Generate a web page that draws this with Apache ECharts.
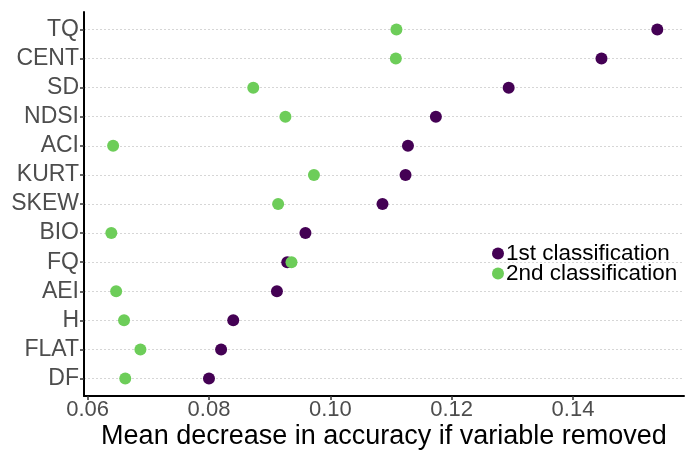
<!DOCTYPE html>
<html>
<head>
<meta charset="utf-8">
<script src="https://cdn.jsdelivr.net/npm/echarts@6/dist/echarts.min.js"></script>
<style>
  html, body { margin: 0; padding: 0; background: #ffffff; }
  #chart { width: 687px; height: 450px; }
</style>
</head>
<body>
<div id="chart"></div>
<script>
// Variables, listed bottom to top
const variables = ['DF', 'FLAT', 'H', 'AEI', 'FQ', 'BIO', 'SKEW', 'KURT', 'ACI', 'NDSI', 'SD', 'CENT', 'TQ'];
// Mean decrease in accuracy, same order as variables
const firstClassification = [0.0800, 0.0820, 0.0840, 0.0912, 0.0929, 0.0959, 0.1086, 0.1124, 0.1128, 0.1174, 0.1294, 0.1447, 0.1539];
const secondClassification = [0.0662, 0.0687, 0.0660, 0.0647, 0.0936, 0.0639, 0.0914, 0.0973, 0.0642, 0.0926, 0.0873, 0.1108, 0.1109];
const xTicks = [0.06, 0.08, 0.10, 0.12, 0.14];
const seriesNames = ['1st classification', '2nd classification'];

const rowPositions = variables.map((_, i) => i + 1);
const toPoints = vals => vals.map((v, i) => [v, i + 1]);

const chart = echarts.init(document.getElementById('chart'), null, { renderer: 'canvas' });
const font = '"Liberation Sans", Arial, sans-serif';

chart.setOption({
  animation: false,
  backgroundColor: '#ffffff',
  grid: { left: 84, right: 3, top: 12, bottom: 54, containLabel: false, outerBoundsMode: 'none' },
  xAxis: {
    type: 'value',
    min: 0.0594,
    max: 0.1583,
    name: 'Mean decrease in accuracy if variable removed',
    nameLocation: 'middle',
    nameGap: 27,
    nameMoveOverlap: false,
    nameTextStyle: { fontFamily: font, fontSize: 27, color: '#000000' },
    axisLine: { show: true, lineStyle: { color: '#000000', width: 2 } },
    axisTick: { show: true, customValues: xTicks, length: 4, lineStyle: { color: '#333333', width: 1.5 } },
    axisLabel: {
      customValues: xTicks,
      formatter: v => v.toFixed(2),
      fontFamily: font, fontSize: 22, color: '#4d4d4d', margin: 3
    },
    splitLine: { show: false }
  },
  yAxis: {
    type: 'value',
    min: 0.4,
    max: 13.6,
    axisLine: { show: true, lineStyle: { color: '#000000', width: 2 } },
    axisTick: { show: true, customValues: rowPositions, length: 4, lineStyle: { color: '#333333', width: 1.5 } },
    axisLabel: {
      customValues: rowPositions,
      formatter: v => variables[Math.round(v) - 1] || '',
      fontFamily: font, fontSize: 23, color: '#4d4d4d', margin: 5
    },
    splitLine: { show: true, lineStyle: { color: '#d6d6d6', type: [2, 2], width: 1 } }
  },
  legend: {
    orient: 'vertical',
    left: 487,
    top: 237,
    itemGap: -3,
    itemWidth: 12,
    itemHeight: 12,
    icon: 'circle',
    textStyle: { fontFamily: font, fontSize: 22.5, color: '#000000', lineHeight: 20, padding: [0, 0, 0, -3] },
    data: seriesNames
  },
  series: [
    {
      name: seriesNames[0],
      type: 'scatter',
      symbol: 'circle',
      symbolSize: 12,
      itemStyle: { color: '#440154', opacity: 1 },
      data: toPoints(firstClassification)
    },
    {
      name: seriesNames[1],
      type: 'scatter',
      symbol: 'circle',
      symbolSize: 12,
      itemStyle: { color: '#6dcd59', opacity: 1 },
      data: toPoints(secondClassification)
    }
  ]
});
</script>
</body>
</html>
